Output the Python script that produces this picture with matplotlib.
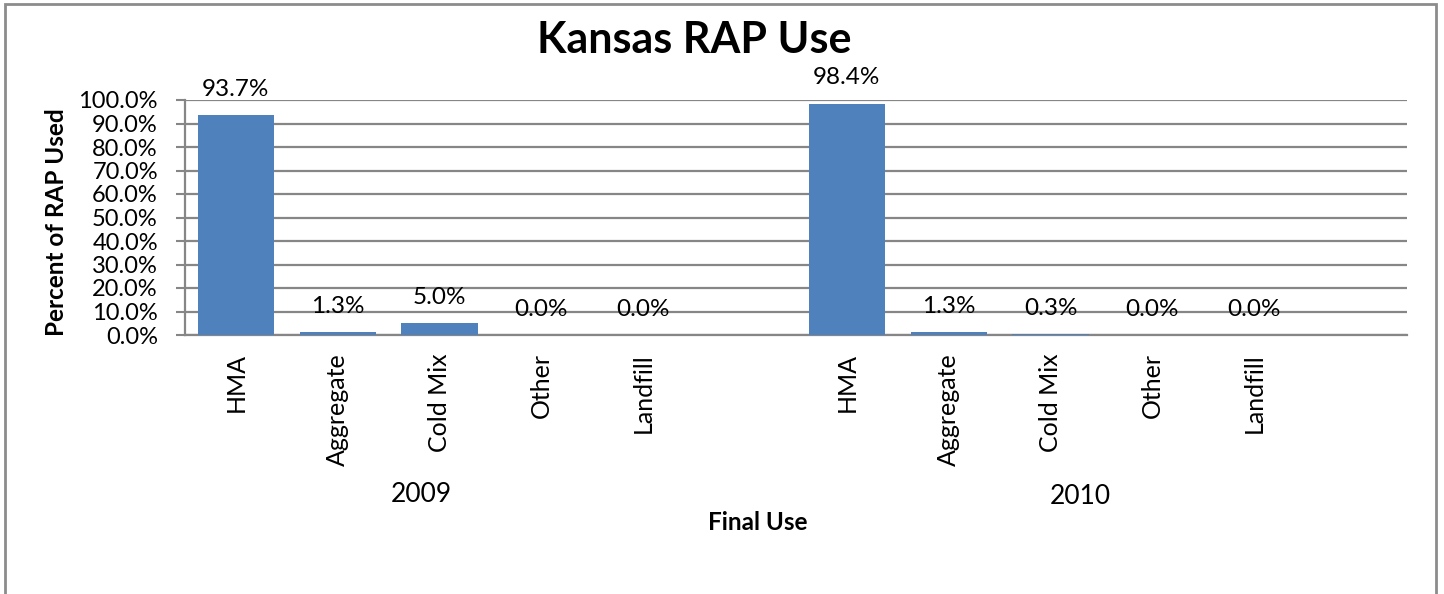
import matplotlib
matplotlib.use("Agg")
import matplotlib.pyplot as plt
from matplotlib.patches import Rectangle

# ---- data ----
uses = ["HMA", "Aggregate", "Cold Mix", "Other", "Landfill"]
years = ["2009", "2010"]
values_2009 = [93.7, 1.3, 5.0, 0.0, 0.0]
values_2010 = [98.4, 1.3, 0.3, 0.0, 0.0]
y_ticks = [0, 10, 20, 30, 40, 50, 60, 70, 80, 90, 100]

title = "Kansas RAP Use"
ylabel = "Percent of RAP Used"
xlabel = "Final Use"

plt.rcParams['font.family'] = ['Lato', 'DejaVu Sans']

W, H = 1444, 594
fig = plt.figure(figsize=(W / 100, H / 100), dpi=100)
fig.patch.set_facecolor("white")

# outer border (open at bottom, like the cropped original)
fig.patches.append(Rectangle((5 / W, -0.05), (1436 - 5) / W, 1.05 - 4 / H,
                             transform=fig.transFigure, fill=False,
                             edgecolor="#8c8c8c", lw=2.0, zorder=0))

ax = fig.add_axes([185 / W, 1 - 335 / H, 1222 / W, 235 / H])

bar_color = "#4F81BD"
grid_color = "#868686"

n_slots = 2 * (len(uses) + 1)
labels = []
values = []
for grp in (values_2009, values_2010):
    labels += uses + [""]
    values += grp + [None]

xs = [i for i, v in enumerate(values) if v is not None]
vs = [v for v in values if v is not None]

ax.bar(xs, vs, width=0.75, color=bar_color, zorder=3)
for x, v in zip(xs, vs):
    ax.annotate(f"{v:.1f}%", (x, v), xytext=(0, 11), textcoords="offset points",
                ha="center", va="bottom", fontsize=17.5, color="black", zorder=4)

ax.set_xlim(-0.5, n_slots - 0.5)
ax.set_ylim(0, 100)
ax.set_yticks(y_ticks)
ax.set_yticklabels([f"{t:.1f}%" for t in y_ticks], fontsize=17)
ax.set_xticks(range(n_slots))
ax.set_xticklabels(labels, rotation=90, fontsize=18, va="top")
ax.tick_params(axis="x", length=0, pad=13)
ax.tick_params(axis="y", length=6.5, width=1.5, color=grid_color, pad=13)

ax.yaxis.grid(True, color=grid_color, lw=1.6, zorder=0)
ax.set_axisbelow(True)
for s in ("top", "right"):
    ax.spines[s].set_visible(False)
for s in ("left", "bottom"):
    ax.spines[s].set_color(grid_color)
    ax.spines[s].set_linewidth(1.6)

# axis titles, group (year) labels and chart title
fig.text(57 / W, 1 - 222 / H, ylabel, rotation=90, ha="center", va="center",
         fontsize=17.5, fontweight="bold")
fig.text(421 / W, 1 - 495 / H, years[0], ha="center", va="center", fontsize=19)
fig.text(1080 / W, 1 - 497 / H, years[1], ha="center", va="center", fontsize=19)
fig.text(758 / W, 1 - 522 / H, xlabel, ha="center", va="center",
         fontsize=17.5, fontweight="bold")
fig.text(694 / W, 1 - 40 / H, title, ha="center", va="center",
         fontsize=31, fontweight="bold")

fig.savefig("out.png", dpi=100)
